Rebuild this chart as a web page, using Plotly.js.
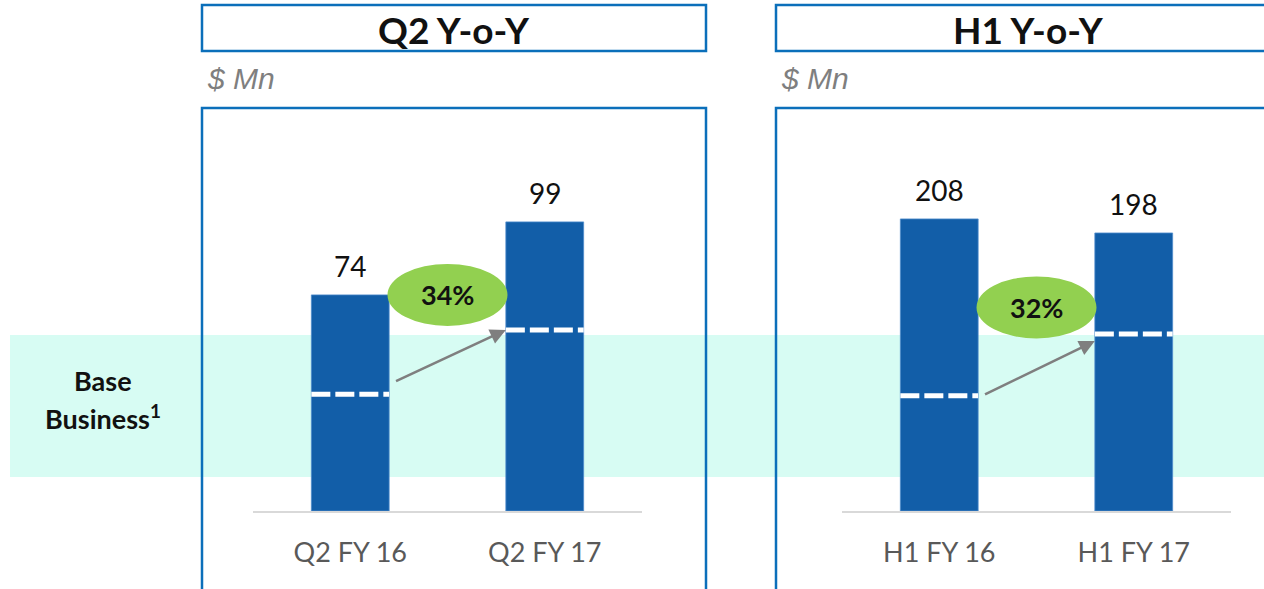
<!DOCTYPE html>
<html>
<head>
<meta charset="utf-8">
<script src="https://cdn.plot.ly/plotly-3.0.1.min.js"></script>
<style>html,body{margin:0;padding:0;background:#fff;}#chart{width:1264px;height:589px;}</style>
</head>
<body>
<div id="chart"></div>
<script>
// ---------- DATA ----------
const categoriesQ2 = ['Q2 FY 16', 'Q2 FY 17'];
const totalQ2 = [74, 99];
const baseQ2 = [40, 62];
const growthQ2 = '34%';

const categoriesH1 = ['H1 FY 16', 'H1 FY 17'];
const totalH1 = [208, 198];
const baseH1 = [82, 126];
const growthH1 = '32%';

const panelTitles = ['Q2 Y-o-Y', 'H1 Y-o-Y'];
const unitLabel = '$ Mn';
const rowLabelLines = ['Base', 'Business<sup>1</sup>'];

// ---------- STYLE / LAYOUT ----------
const W = 1264, H = 589;
const X = px => px / W;
const Y = py => 1 - py / H;
const BAR = '#125ea8';
const BOX = '#0b6fba';
const FONT = 'Lato, "Open Sans", sans-serif';

const panels = [
  {cats: categoriesQ2, vals: totalQ2, base: baseQ2, growth: growthQ2, xa: 'x', ya: 'y',
   boxL: 202, boxR: 706, ellipseY: 74, arrowStartDy: 4, arrowEndDy: 0},
  {cats: categoriesH1, vals: totalH1, base: baseH1, growth: growthH1, xa: 'x2', ya: 'y2',
   boxL: 776, boxR: 1280, ellipseY: 145, arrowStartDy: 0, arrowEndDy: -5}
];

const traces = panels.map(p => ({
  type: 'bar', x: p.cats, y: p.vals, xaxis: p.xa, yaxis: p.ya,
  width: 0.4,
  marker: {color: BAR, line: {color: '#4f8ccb', width: 0.8}},
  hoverinfo: 'x+y'
}));

const shapes = [];
const annotations = [];

// mint band
shapes.push({type: 'rect', xref: 'paper', yref: 'paper', x0: X(10), x1: 1.01, y0: Y(477), y1: Y(335),
  fillcolor: '#d7fcf3', line: {width: 0}, layer: 'below'});

panels.forEach((p, k) => {
  // title box and plot box
  shapes.push({type: 'rect', xref: 'paper', yref: 'paper', x0: X(p.boxL), x1: X(p.boxR), y0: Y(51), y1: Y(5),
    line: {color: BOX, width: 2.5}, fillcolor: 'rgba(0,0,0,0)'});
  shapes.push({type: 'rect', xref: 'paper', yref: 'paper', x0: X(p.boxL), x1: X(p.boxR), y0: Y(600), y1: Y(108),
    line: {color: BOX, width: 2.5}, fillcolor: 'rgba(0,0,0,0)'});
  annotations.push({xref: 'paper', yref: 'paper', x: X((p.boxL + p.boxR) / 2), y: Y(29), text: panelTitles[k],
    showarrow: false, xanchor: 'center', yanchor: 'middle', font: {family: FONT, size: 37, weight: 700, color: '#111'}});
  annotations.push({xref: 'paper', yref: 'paper', x: X(p.boxL + 3), y: Y(78), text: '<i>' + unitLabel + '</i>',
    showarrow: false, xanchor: 'left', yanchor: 'middle', font: {family: '"Liberation Sans", Arial, sans-serif', size: 30, color: '#7f7f7f'}});

  // dashed base-business lines
  p.base.forEach((b, i) => {
    shapes.push({type: 'line', xref: p.xa, yref: p.ya, x0: i - 0.2, x1: i + 0.2, y0: b, y1: b,
      line: {color: '#ffffff', width: 5, dash: '19px,5px'}});
  });

  // value labels
  p.vals.forEach((v, i) => {
    annotations.push({xref: p.xa, yref: p.ya, x: i, y: v, yshift: 29, text: String(v), showarrow: false,
      xanchor: 'center', yanchor: 'middle', font: {family: FONT, size: 28, color: '#111'}});
  });

  // growth ellipse
  shapes.push({type: 'circle', xref: p.xa, yref: p.ya, xsizemode: 'pixel', ysizemode: 'pixel',
    xanchor: 0.5, yanchor: p.ellipseY, x0: -60, x1: 60, y0: -31, y1: 31,
    fillcolor: '#92d050', line: {width: 0}});
  annotations.push({xref: p.xa, yref: p.ya, x: 0.5, y: p.ellipseY, text: p.growth, showarrow: false,
    xanchor: 'center', yanchor: 'middle', font: {family: FONT, size: 27, weight: 700, color: '#111'}});

  // arrow between base-business levels
  annotations.push({xref: p.xa, yref: p.ya, axref: p.xa, ayref: p.ya,
    x: 0.8, y: p.base[1] + p.arrowEndDy, ax: 0.22, ay: p.base[0] + p.arrowStartDy,
    text: ' ', showarrow: true, arrowhead: 2, arrowsize: 1.2, arrowwidth: 2.6, arrowcolor: '#7f7f7f', standoff: 0, startstandoff: 0});
});

// row label
annotations.push({xref: 'paper', yref: 'paper', x: X(103), y: Y(380), text: rowLabelLines[0], showarrow: false,
  xanchor: 'center', yanchor: 'middle', font: {family: FONT, size: 27, weight: 700, color: '#111'}});
annotations.push({xref: 'paper', yref: 'paper', x: X(103), y: Y(417), text: rowLabelLines[1], showarrow: false,
  xanchor: 'center', yanchor: 'middle', font: {family: FONT, size: 27, weight: 700, color: '#111'}});

const xCommon = {type: 'category', range: [-0.5, 1.5], showline: true, linecolor: '#d9d9d9', linewidth: 2,
  ticks: '', showgrid: false, zeroline: false, fixedrange: true, ticklabelstandoff: 17,
  tickfont: {family: FONT, size: 27, color: '#595959'}};
const yCommon = {visible: false, showgrid: false, zeroline: false, fixedrange: true, domain: [Y(511), Y(108)]};

const layout = {
  width: W, height: H, margin: {l: 0, r: 0, t: 0, b: 0},
  paper_bgcolor: '#ffffff', plot_bgcolor: 'rgba(0,0,0,0)', showlegend: false,
  xaxis: Object.assign({}, xCommon, {domain: [X(253), X(642)], anchor: 'y'}),
  yaxis: Object.assign({}, yCommon, {range: [0, 138], anchor: 'x'}),
  xaxis2: Object.assign({}, xCommon, {domain: [X(842), X(1231)], anchor: 'y2'}),
  yaxis2: Object.assign({}, yCommon, {range: [0, 287], anchor: 'x2'}),
  shapes: shapes, annotations: annotations
};

Plotly.newPlot('chart', traces, layout, {displayModeBar: false, staticPlot: true});
</script>
</body>
</html>
